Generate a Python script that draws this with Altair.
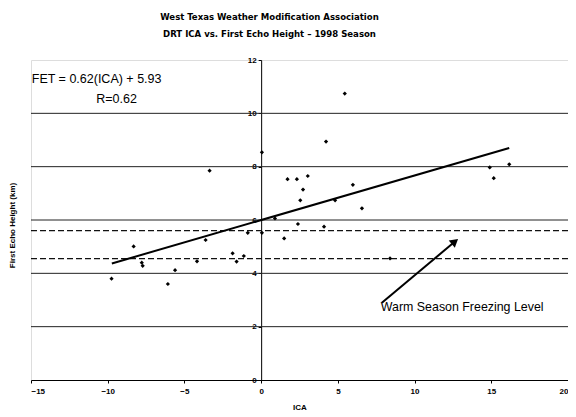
import altair as alt
import pandas as pd

# ---- data ----
ica = [-9.75, -8.31, -7.78, -7.72, -6.08, -5.61, -4.18, -3.62, -3.36, -1.86, -1.6, -1.13,
       -0.87, 0.05, 0.05, 0.9, 1.5, 1.72, 2.33, 2.4, 2.55, 2.73, 3.04, 4.1, 4.23, 4.82,
       5.45, 5.98, 6.57, 8.4, 14.9, 15.16, 16.17]
fet = [3.8, 5.01, 4.4, 4.28, 3.6, 4.12, 4.45, 5.25, 7.85, 4.75, 4.44, 4.65,
       5.52, 5.52, 8.54, 6.06, 5.31, 7.53, 7.53, 5.85, 6.74, 7.14, 7.65, 5.75, 8.94, 6.74,
       10.74, 7.32, 6.44, 4.56, 7.97, 7.57, 8.09]
fit_x = [-9.73, 16.17]
fit_y = [4.37, 8.7]
grid_levels = [2, 4, 6, 8, 10]
freezing_levels = [4.55, 5.6]
arrow_x = [7.87, 12.63]
arrow_y = [2.9, 5.19]
x_ticks = [-15, -10, -5, 0, 5, 10, 15, 20]
y_ticks = [0, 2, 4, 6, 8, 10, 12]
eq_text = ["FET = 0.62(ICA) + 5.93", "R=0.62"]
eq_x = [-14.95, -10.75]
eq_y = [11.29, 10.54]
note_text = ["Warm Season Freezing Level"]
note_x = [7.8]
note_y = [2.75]

W, H = 537, 320
FONT = "Liberation Sans"
xs = alt.Scale(domain=[-15, 20], nice=False, zero=False)
ys = alt.Scale(domain=[0, 12], nice=False, zero=False)
y_offset = -W * 15 / 35

x_axis = alt.Axis(values=x_ticks, title="ICA", grid=False, domainColor="black",
                  tickColor="black", tickSize=3, labelFontSize=8, labelFontWeight="bold",
                  labelFont=FONT, labelColor="black", labelPadding=4,
                  titleFontSize=8, titleFontWeight="bold", titleFont=FONT,
                  titleColor="black", titlePadding=8)
y_axis = alt.Axis(values=y_ticks, title="First Echo Height (km)", grid=False,
                  offset=y_offset, domainColor="black", tickColor="black", tickSize=3,
                  labelFontSize=8, labelFontWeight="bold", labelFont=FONT,
                  labelColor="black", labelPadding=2,
                  titleFontSize=8, titleFontWeight="bold", titleFont=FONT,
                  titleColor="black", titleX=y_offset - 19, titleY=H / 2 + 5,
                  titleAngle=270, titleAlign="center", titleBaseline="middle")


def X(field):
    return alt.X(field, scale=xs, axis=x_axis)


def Y(field):
    return alt.Y(field, scale=ys, axis=y_axis)


grid_df = pd.DataFrame({"level": grid_levels})
grid = alt.Chart(grid_df).mark_rule(color="#222", strokeWidth=1).encode(y=Y("level:Q"))

frz_df = pd.DataFrame({"level": freezing_levels})
frz = alt.Chart(frz_df).mark_rule(color="#111", strokeWidth=1.2, strokeDash=[6, 3]).encode(
    y=Y("level:Q")
)

pts_df = pd.DataFrame({"ICA": ica, "FET": fet})
pts = alt.Chart(pts_df).mark_point(shape="diamond", filled=True, color="black",
                                   size=18, opacity=1).encode(
    x=X("ICA:Q"), y=Y("FET:Q"),
)

fit_df = pd.DataFrame({"x": fit_x, "y": fit_y})
fit = alt.Chart(fit_df).mark_line(color="black", strokeWidth=2).encode(
    x=X("x:Q"), y=Y("y:Q"),
)

arr_df = pd.DataFrame({"x": arrow_x, "y": arrow_y})
arr = alt.Chart(arr_df).mark_line(color="black", strokeWidth=2).encode(
    x=X("x:Q"), y=Y("y:Q"),
)
head_df = pd.DataFrame({"x": arrow_x[1:], "y": arrow_y[1:]})
head = alt.Chart(head_df).mark_point(shape="triangle-up", filled=True, color="black",
                                     size=90, angle=50, opacity=1).encode(
    x=X("x:Q"), y=Y("y:Q"),
)

eq_df = pd.DataFrame({"x": eq_x, "y": eq_y, "t": eq_text})
eq = alt.Chart(eq_df).mark_text(align="left", baseline="middle", fontSize=12.5,
                                font=FONT, color="black").encode(
    x=X("x:Q"), y=Y("y:Q"), text="t:N",
)

note_df = pd.DataFrame({"x": note_x, "y": note_y, "t": note_text})
note = alt.Chart(note_df).mark_text(align="left", baseline="middle", fontSize=12.4,
                                    font=FONT, color="black").encode(
    x=X("x:Q"), y=Y("y:Q"), text="t:N",
)

chart = alt.layer(grid, frz, fit, arr, head, pts, eq, note).properties(
    width=W, height=H,
    autosize=alt.AutoSizeParams(type="none"),
    padding={"left": 23, "top": 52, "right": 0, "bottom": 32},
    title=alt.TitleParams(
        ["West Texas Weather Modification Association",
         "DRT ICA vs. First Echo Height \u2013 1998 Season"],
        font="Liberation Sans Narrow, DejaVu Sans Condensed, Liberation Sans",
        fontSize=9.5, fontWeight="bold", color="black", anchor="middle",
        dx=-30, offset=18, lineHeight=17,
    ),
).configure_view(stroke=None).configure(background="white")

chart.save("out.html", embed_options={"renderer": "svg", "actions": False})
